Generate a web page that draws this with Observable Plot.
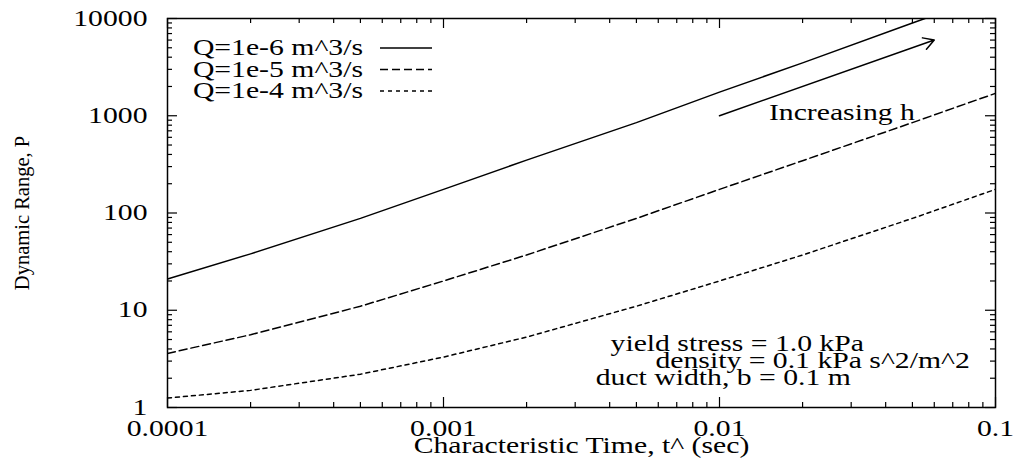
<!DOCTYPE html>
<html><head><meta charset="utf-8">
<script src="https://cdn.jsdelivr.net/npm/d3@7"></script>
<script src="https://cdn.jsdelivr.net/npm/@observablehq/plot@0.6"></script>
<style>
html,body{margin:0;padding:0;background:#fff;}
svg text{font-family:"Liberation Serif","Times New Roman",serif;}
</style></head><body><div id="chart"></div>
<script>
// ---- data ----
const times   = [1e-4, 2e-4, 5e-4, 1e-3, 2e-3, 5e-3, 0.01, 0.02, 0.05, 0.1];
const pQ1e6   = [21, 38, 88, 175, 350, 850, 1750, 3500, 9000, 18000];
const pQ1e5   = [3.6, 5.6, 11, 20, 37, 88, 175, 345, 850, 1700];
const pQ1e4   = [1.25, 1.5, 2.2, 3.3, 5.3, 11, 20, 37, 88, 175];
const seriesNames = ["Q=1e-6 m^3/s", "Q=1e-5 m^3/s", "Q=1e-4 m^3/s"];
const seriesDash  = [null, "8,4", "4,4"];
const xTicks = [1e-4, 1e-3, 1e-2, 1e-1];
const xTickLabels = ["0.0001", "0.001", "0.01", "0.1"];
const yTicks = [1, 10, 100, 1000, 10000];
const yTickLabels = ["1", "10", "100", "1000", "10000"];
const xLabel = "Characteristic Time, t^ (sec)";
const yLabel = "Dynamic Range, P";
const notes  = ["yield stress = 1.0 kPa", "density = 0.1 kPa s^2/m^2", "duct width, b = 0.1 m"];
const noteT  = [0.00403, 0.00586, 0.00356];
const noteP  = [4.55, 3.04, 2.03];
const arrowFrom = [0.01, 1000];
const arrowTo   = [0.06, 6000];
const arrowText = "Increasing h";
const arrowTextAt = [0.0151, 1070];

// ---- layout ----
const W = 1014, H = 464, mL = 167, mR = 19, mT = 18, mB = 57;
const plotW = W - mL - mR, plotH = H - mT - mB;
const STRETCH = 1.32;
const FS = 22.5;

const seriesP = [pQ1e6, pQ1e5, pQ1e4];
const seriesRows = seriesP.map((ps, s) => times.map((t, i) => ({t, p: ps[i], s})));

const minorX = [], minorY = [];
for (const d of [1e-4, 1e-3, 1e-2]) for (let k = 2; k <= 9; k++) minorX.push(d * k);
for (const d of [1, 10, 100, 1000]) for (let k = 2; k <= 9; k++) minorY.push(d * k);

const MAJ = 10, MIN = 5;
const tickStyle = {stroke: "black", strokeWidth: 1.2};

function legendMark(index, scales, values, dims) {
  const g = d3.create("svg:g");
  seriesNames.forEach((name, i) => {
    const y = dims.marginTop + 30 + i * 21.5;
    g.append("text")
      .attr("x", dims.marginLeft + 196).attr("y", y).attr("dy", "0.32em")
      .attr("text-anchor", "end").attr("font-size", FS).attr("fill", "black")
      .text(name);
    const ln = g.append("line")
      .attr("x1", dims.marginLeft + 213).attr("x2", dims.marginLeft + 265)
      .attr("y1", y).attr("y2", y)
      .attr("stroke", "black").attr("stroke-width", 1.5);
    if (seriesDash[i]) ln.attr("stroke-dasharray", seriesDash[i]);
  });
  return g.node();
}

const svg = Plot.plot({
  width: W, height: H,
  marginLeft: mL, marginRight: mR, marginTop: mT, marginBottom: mB,
  style: {fontFamily: "Liberation Serif", fontSize: FS + "px", color: "black", background: "white"},
  x: {type: "log", domain: [1e-4, 0.1]},
  y: {type: "log", domain: [1, 10000]},
  marks: [
    // inward ticks on all four sides
    Plot.tickX(xTicks, {x: d => d, insetTop: plotH - MAJ, ...tickStyle}),
    Plot.tickX(xTicks, {x: d => d, insetBottom: plotH - MAJ, ...tickStyle}),
    Plot.tickX(minorX, {x: d => d, insetTop: plotH - MIN, ...tickStyle}),
    Plot.tickX(minorX, {x: d => d, insetBottom: plotH - MIN, ...tickStyle}),
    Plot.tickY(yTicks, {y: d => d, insetRight: plotW - MAJ, ...tickStyle}),
    Plot.tickY(yTicks, {y: d => d, insetLeft: plotW - MAJ, ...tickStyle}),
    Plot.tickY(minorY, {y: d => d, insetRight: plotW - MIN, ...tickStyle}),
    Plot.tickY(minorY, {y: d => d, insetLeft: plotW - MIN, ...tickStyle}),
    Plot.axisX(xTicks, {tickSize: 0, tickPadding: 13, fontSize: FS, label: null,
      tickFormat: d => xTickLabels[xTicks.indexOf(d)]}),
    Plot.axisY(yTicks, {tickSize: 0, tickPadding: 20, fontSize: FS, label: null,
      tickFormat: d => yTickLabels[yTicks.indexOf(d)]}),
    Plot.text([xLabel], {frameAnchor: "bottom", dy: 45, fontSize: FS, fill: "black"}),
    Plot.text([yLabel], {frameAnchor: "left", dx: -145, rotate: -90, textAnchor: "middle",
      fontSize: 20.5, fill: "black", className: "ylab"}),
    // curves
    ...seriesRows.map((rows, s) => Plot.line(rows, {
      x: "t", y: "p", stroke: "black", strokeWidth: 1.5, clip: true,
      strokeDasharray: seriesDash[s] || undefined
    })),
    // annotations
    Plot.arrow([0], {x1: () => arrowFrom[0], y1: () => arrowFrom[1], x2: () => arrowTo[0], y2: () => arrowTo[1],
      stroke: "black", strokeWidth: 1.5, headLength: 12}),
    Plot.text([arrowText], {x: () => arrowTextAt[0], y: () => arrowTextAt[1], textAnchor: "start", fontSize: FS, fill: "black"}),
    Plot.text(notes, {x: (d, i) => noteT[i], y: (d, i) => noteP[i], textAnchor: "start", fontSize: FS, fill: "black"}),
    legendMark,
    Plot.frame({stroke: "black", strokeWidth: 1.5})
  ]
});

document.getElementById("chart").append(svg);
svg.querySelectorAll("text").forEach(t => {
  if (t.closest(".ylab")) return;
  const len = t.getComputedTextLength();
  if (len > 0) {
    t.setAttribute("textLength", (len * STRETCH).toFixed(1));
    t.setAttribute("lengthAdjust", "spacingAndGlyphs");
  }
});
</script></body></html>
